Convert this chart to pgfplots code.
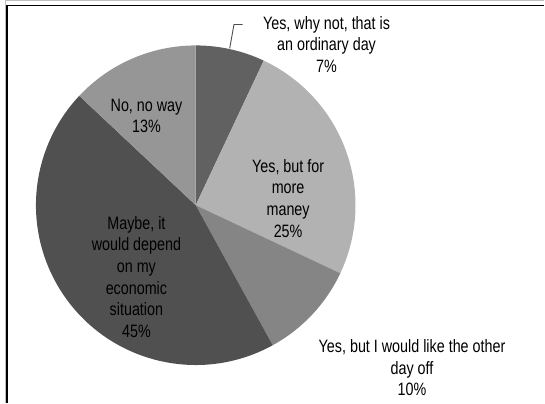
\documentclass[border=0pt]{standalone}
\usepackage{pgfplots}
\pgfplotsset{compat=1.18}
\usepackage{pgfplotstable}
\usepackage{fontspec}
\setmainfont{Liberation Sans}[FakeStretch=0.8]
\definecolor{s1}{RGB}{97,97,97}
\definecolor{s2}{RGB}{178,178,178}
\definecolor{s3}{RGB}{133,133,133}
\definecolor{s4}{RGB}{80,80,80}
\definecolor{s5}{RGB}{150,150,150}
\pgfplotstableread{
value col
7 s1
25 s2
10 s3
45 s4
13 s5
}\piedata
\begin{document}
\begin{tikzpicture}
\begin{axis}[width=545bp,height=403bp,scale only axis,
  xmin=0,xmax=545,ymin=0,ymax=403,hide axis,clip=false]
\path (axis cs:0,0) rectangle (axis cs:545,403);
\gdef\startang{90}
\pgfplotsforeachungrouped \i in {0,...,4}{%
  \pgfplotstablegetelem{\i}{value}\of\piedata
  \let\v=\pgfplotsretval
  \pgfplotstablegetelem{\i}{col}\of\piedata
  \let\c=\pgfplotsretval
  \pgfmathsetmacro\endang{\startang-3.6*\v}%
  \edef\temp{\noexpand\fill[\c] (axis cs:196,198) -- ++(\startang:160bp) arc[start angle=\startang,end angle=\endang,radius=160bp] -- cycle;}%
  \temp
  \global\let\startang\endang
}
% frame
\draw[gray!50,line width=1bp] (axis cs:6,403) -- (axis cs:545,403);
\draw[gray!50,line width=1bp] (axis cs:5.5,0) -- (axis cs:5.5,403);
\draw[black,line width=1.5bp] (axis cs:7,398) -- (axis cs:545,398);
\draw[black,line width=1.5bp] (axis cs:7,0) -- (axis cs:7,398.75);
% leader line
\draw[black!70,line width=0.9bp] (axis cs:230,355) -- (axis cs:234.3,379) -- (axis cs:243,379);
% labels
\begin{scope}[every node/.style={align=center,font=\fontsize{18}{21.7}\selectfont,inner sep=0pt}]
\node at (axis cs:327,359) {Yes, why not, that is\\an ordinary day\\7\%};
\node at (axis cs:288.5,205) {Yes, but for\\more\\maney\\25\%};
\node at (axis cs:412.6,35) {Yes, but I would like the other\\day off\\10\%};
\node at (axis cs:136.6,126.2) {Maybe, it\\would depend\\on my\\economic\\situation\\45\%};
\node at (axis cs:146.7,287.5) {No, no way\\13\%};
\end{scope}
\end{axis}
\end{tikzpicture}
\end{document}
